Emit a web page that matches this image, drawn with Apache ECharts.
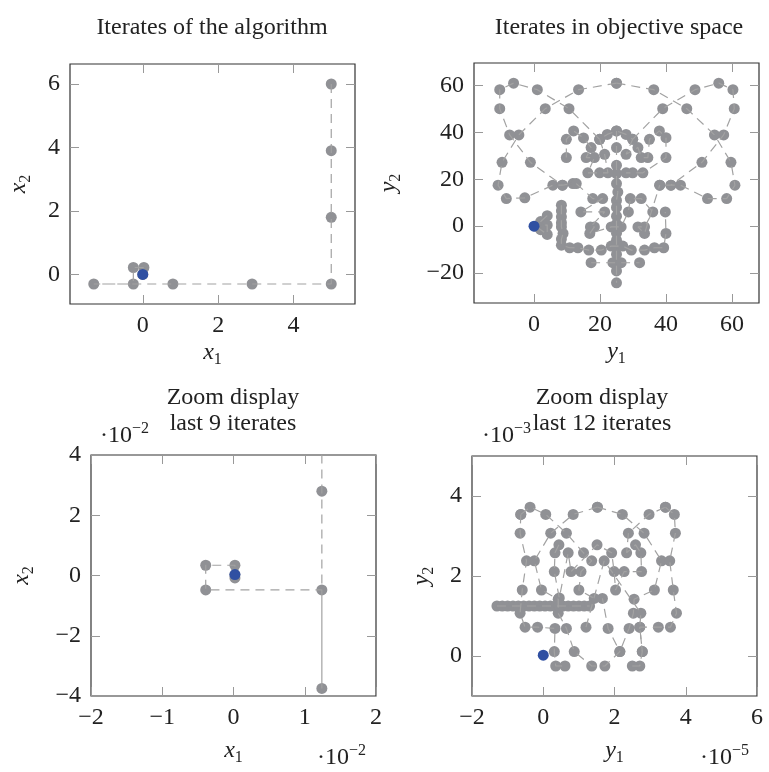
<!DOCTYPE html>
<html>
<head>
<meta charset="utf-8">
<script src="https://cdn.jsdelivr.net/npm/echarts@6/dist/echarts.min.js"></script>
<style>
  html, body { margin: 0; padding: 0; background: #fff; }
  #chart { width: 769px; height: 772px; }
</style>
</head>
<body>
<div id="chart"></div>
<script>
// ---- panel 1: iterates in decision space (x1, x2)
const decPath = [[5, 6], [5, 3.9], [5, 1.8], [5, -0.3], [2.9, -0.3], [0.8, -0.3], [-1.3, -0.3],
  [-0.25, -0.3], [-0.25, 0.22], [0.03, 0.22], [0, 0]];
const decFinal = [[0, 0]];
const decXTicks = [0, 2, 4];
const decYTicks = [0, 2, 4, 6];

// ---- panel 2: iterates in objective space (y1, y2)
const objLeft = [[25, 61.1], [13.5, 58.3], [3.4, 50.2], [-4.6, 39], [-9.7, 27.3], [-10.9, 17.5],
  [-8.4, 11.8], [-2.8, 12.1], [5.7, 17.5], [8.6, 17.5], [11.8, 18.2]];
const objRight = [[25, 61.1], [36.3, 58.3], [46.3, 50.2], [54.7, 39], [59.7, 27.3], [60.9, 17.5],
  [58.4, 11.8], [52.6, 11.8], [44.4, 17.5], [41.5, 17.5], [38.1, 17.5]];
const objWingL = [[19.9, 37.1], [10.6, 50.2], [1.0, 58.3], [-6.2, 61.1], [-10.4, 58.3], [-10.4, 50.2],
  [-7.4, 39], [-1.1, 27.3], [8.6, 17.5]];
const objWingR = [[29.9, 37.1], [39, 50.2], [48.8, 58.3], [56, 61.1], [60.3, 58.3], [60.7, 50.2],
  [57.5, 39], [50.9, 27.3], [41.5, 17.5]];
const objColumn = [[25, 40.7], [25, 33.6], [25, 26], [25, 22.5], [25, 18.2], [25.4, 14.6], [25, 11],
  [25, 8], [25, 4.3], [25, 1], [25, -3], [25, -6], [25, -8.5], [25, -12], [25, -15.6], [25, -19.1], [25, -24.2]];
const objLoop = [[8.3, 9], [8.3, 6.5], [8.3, 4], [8.3, 1.5], [8.3, -0.3], [8.8, -3.1], [8.3, -5.5],
  [8.3, -8.1], [10.8, -9.2], [13.3, -9.2], [16.6, -10.2], [20.4, -10.2], [23.4, -8.5], [26.9, -8.5],
  [29.5, -10.2], [33.5, -10.2], [36.5, -9.2], [39.3, -9.2], [40, -3.1], [39.8, 6.1]];
const objUpper = [[9.8, 29.3], [9.8, 37.1], [12, 40.7], [15, 37.7], [17.3, 33.6], [15.8, 29.3],
  [18.3, 29.3], [16.3, 22.8], [19.9, 22.8], [22.4, 22.8], [21.4, 30.7], [19.9, 37.1], [22.2, 39.2],
  [25, 40.7], [27.9, 39.2], [29.9, 37.1], [27.9, 30.7], [31.5, 33.6], [32.5, 29.3], [34.5, 29.3],
  [35, 37.1], [38, 40.7], [40, 37.8], [40, 29.3], [33, 22.8], [29.9, 22.8], [27.9, 22.8]];
const objMiddle = [[12.8, 18.2], [17.8, 11.8], [20.8, 11.8], [14.2, 6.1], [21.4, 6.1], [17.1, -0.3],
  [18.3, -0.3], [16.9, -3.1], [23.4, -0.3], [26.4, -0.3], [28.6, 6.1], [29.2, 11.8], [32.5, 11.8],
  [36, 6.1], [33.5, -0.3], [31.5, -0.3], [33.5, -3.1], [38.1, 17.5]];
const objLower = [[17.3, -15.6], [23.9, -15.6], [26.4, -15.6], [32, -15.6]];
const objNear = [[4, 4.5], [2, 2], [3, 0.5], [4, 0.5], [4, -3.5], [2, -1.5], [0.5, 0]];
const objFinal = [[0, 0]];
const objXTicks = [0, 20, 40, 60];
const objYTicks = [-20, 0, 20, 40, 60];

// ---- panel 3: last 9 iterates, decision space (values x 1e-2)
const zoomDecPath = [[1.24, 9], [1.24, 2.8], [1.24, -3.75], [1.24, -0.48], [-0.39, -0.48],
  [-0.39, 0.34], [0.02, 0.34], [0.02, -0.08], [0.02, 0.03]];
const zoomDecFinal = [[0.02, 0.03]];
const zoomDecXTicks = [-2, -1, 0, 1, 2];
const zoomDecYTicks = [-4, -2, 0, 2, 4];

// ---- panel 4: last 12 iterates, objective space (y1 x 1e-5, y2 x 1e-3)
const zA = [[1.52, 3.72], [0.84, 3.54], [0.21, 3.07], [-0.25, 2.38], [-0.05, 1.65], [0.42, 1.42],
  [0.42, 1.07], [0.65, 0.69], [0.87, 0.11], [1.36, -0.25], [1.73, -0.25], [2.15, 0.11], [1.82, 0.69], [1.66, 1.44]];
const zB = [[1.52, 3.72], [2.22, 3.54], [2.83, 3.07], [3.32, 2.38], [3.12, 1.65], [2.55, 1.42],
  [2.53, 1.07], [2.41, 0.69], [2.15, 0.11]];
const zC = [[-0.63, 3.54], [-0.65, 3.07], [-0.47, 2.38], [-0.59, 1.65], [-0.65, 1.07], [-0.51, 0.72],
  [-0.16, 0.72], [0.33, 0.69], [0.31, 0.11], [0.35, -0.25], [0.61, -0.25]];
const zD = [[3.43, 3.72], [3.68, 3.54], [3.71, 3.07], [3.55, 2.38], [3.65, 1.65], [3.74, 1.07],
  [3.57, 0.72], [3.23, 0.72], [2.71, 0.72], [2.78, 0.11], [2.71, -0.25], [2.50, -0.25]];
const zE = [[-0.63, 3.54], [-0.37, 3.72], [0.07, 3.54], [0.65, 3.07], [1.13, 2.58], [1.36, 2.38],
  [1.06, 2.11], [1.00, 1.65], [1.43, 1.44]];
const zF = [[0.44, 2.78], [0.33, 2.58], [0.31, 2.11], [0.45, 1.45], [0.70, 2.58], [0.78, 2.11],
  [1.51, 2.78], [1.92, 2.58], [1.99, 2.11], [2.03, 1.65], [2.27, 2.11], [2.76, 2.11], [2.74, 2.58],
  [2.59, 2.78], [2.34, 2.58], [2.39, 3.07], [2.97, 3.54], [3.43, 3.72]];
const zG = [[1.20, 0.72], [1.71, 2.38], [2.74, 1.07], [2.71, 0.72], [2.78, 0.11]];
const zBar = [[-1.3, 1.25], [-1.15, 1.25], [-1.0, 1.25], [-0.85, 1.25], [-0.7, 1.25], [-0.55, 1.25],
  [-0.4, 1.25], [-0.25, 1.25], [-0.1, 1.25], [0.05, 1.25], [0.2, 1.25], [0.35, 1.25], [0.45, 1.25],
  [0.55, 1.25], [0.7, 1.25], [0.85, 1.25], [1.0, 1.25], [1.15, 1.25], [1.3, 1.25]];
const zFinal = [[0, 0.02]];
const zObjXTicks = [-2, 0, 2, 4, 6];
const zObjYTicks = [0, 2, 4];

const FONT = 'Liberation Serif';
const GRAY = '#909195';
const BLUE = '#3050a2';

const chart = echarts.init(document.getElementById('chart'));

const nameRich = {
  i: { fontFamily: FONT, fontStyle: 'italic', fontSize: 24, color: '#222', lineHeight: 30 },
  s: { fontFamily: FONT, fontSize: 16, color: '#222', lineHeight: 16, verticalAlign: 'bottom' }
};
const fmt = v => String(v).replace('-', '\u2212');

function axes(gi, dim, min, max, ticks, name, gap) {
  const isX = dim === 'x';
  const tick = { show: true, inside: true, length: 9, customValues: ticks, lineStyle: { color: '#999', width: 1 } };
  return [{
    type: 'value', gridIndex: gi, min: min, max: max, position: isX ? 'bottom' : 'left',
    name: name, nameLocation: 'middle', nameGap: gap, nameRotate: isX ? 0 : 90,
    nameTextStyle: { rich: nameRich },
    axisLine: { show: false, onZero: false }, splitLine: { show: false }, axisTick: tick,
    axisLabel: { customValues: ticks, margin: 10, fontFamily: FONT, fontSize: 24, color: '#222', formatter: fmt }
  }, {
    type: 'value', gridIndex: gi, min: min, max: max, position: isX ? 'top' : 'right',
    axisLine: { show: false, onZero: false }, splitLine: { show: false }, axisTick: tick, axisLabel: { show: false }
  }];
}

function panelSeries(gi, paths, finals) {
  const out = [];
  paths.forEach(p => out.push({
    type: 'line', xAxisIndex: gi * 2, yAxisIndex: gi * 2, data: p, showSymbol: false, symbol: 'none',
    clip: true, silent: true,
    lineStyle: { color: '#a2a2a2', width: 1.2, type: [9, 6] }
  }));
  out.push({
    type: 'scatter', xAxisIndex: gi * 2, yAxisIndex: gi * 2, data: [].concat(...paths),
    symbolSize: 11, clip: true, itemStyle: { color: GRAY, opacity: 1 }
  });
  out.push({
    type: 'scatter', xAxisIndex: gi * 2, yAxisIndex: gi * 2, data: finals,
    symbolSize: 11, clip: true, z: 5, itemStyle: { color: BLUE, opacity: 1 }
  });
  return out;
}

const gridBox = { show: true, borderColor: '#333', borderWidth: 1.2, backgroundColor: 'transparent' };

const textStyle = (x, y, text, align) => ({
  type: 'text', x: x, y: y,
  style: {
    text: text, fontFamily: FONT, fontSize: 24, fill: '#222', align: align || 'center', verticalAlign: 'middle',
    rich: {
      a: { fontFamily: FONT, fontSize: 24, fill: '#222', lineHeight: 30 },
      b: { fontFamily: FONT, fontSize: 16, fill: '#222', lineHeight: 16, verticalAlign: 'top' }
    }
  }
});

const option = {
  animation: false,
  backgroundColor: '#fff',
  grid: [
    Object.assign({ left: 70, top: 64, width: 285, height: 240 }, gridBox),
    Object.assign({ left: 474, top: 63, width: 285, height: 240 }, gridBox),
    Object.assign({ left: 91, top: 455, width: 285, height: 241 }, gridBox),
    Object.assign({ left: 472, top: 456, width: 285, height: 240 }, gridBox)
  ],
  xAxis: [].concat(
    axes(0, 'x', -1.93, 5.63, decXTicks, '{i|x}{s|1}', 34),
    axes(1, 'x', -18.2, 68.2, objXTicks, '{i|y}{s|1}', 34),
    axes(2, 'x', -2, 2, zoomDecXTicks, '{i|x}{s|1}', 40),
    axes(3, 'x', -2, 6, zObjXTicks, '{i|y}{s|1}', 40)
  ),
  yAxis: [].concat(
    axes(0, 'y', -0.93, 6.63, decYTicks, '{i|x}{s|2}', 36),
    axes(1, 'y', -32.8, 69.7, objYTicks, '{i|y}{s|2}', 70),
    axes(2, 'y', -4, 4, zoomDecYTicks, '{i|x}{s|2}', 54),
    axes(3, 'y', -1, 5, zObjYTicks, '{i|y}{s|2}', 35)
  ),
  series: [].concat(
    panelSeries(0, [decPath], decFinal),
    panelSeries(1, [objLeft, objRight, objWingL, objWingR, objColumn, objLoop, objUpper, objMiddle, objLower, objNear], objFinal),
    panelSeries(2, [zoomDecPath], zoomDecFinal),
    panelSeries(3, [zA, zB, zC, zD, zE, zF, zG, zBar], zFinal)
  ),
  graphic: [
    textStyle(212, 28, 'Iterates of the algorithm'),
    textStyle(619, 28, 'Iterates in objective space'),
    textStyle(233, 398, 'Zoom display'),
    textStyle(233, 424, 'last 9 iterates'),
    textStyle(602, 398, 'Zoom display'),
    textStyle(602, 424, 'last 12 iterates'),
    textStyle(100, 436, '{a|\u00b710}{b|\u22122}', 'left'),
    textStyle(317, 758, '{a|\u00b710}{b|\u22122}', 'left'),
    textStyle(482, 436, '{a|\u00b710}{b|\u22123}', 'left'),
    textStyle(700, 758, '{a|\u00b710}{b|\u22125}', 'left')
  ]
};

chart.setOption(option);
</script>
</body>
</html>
